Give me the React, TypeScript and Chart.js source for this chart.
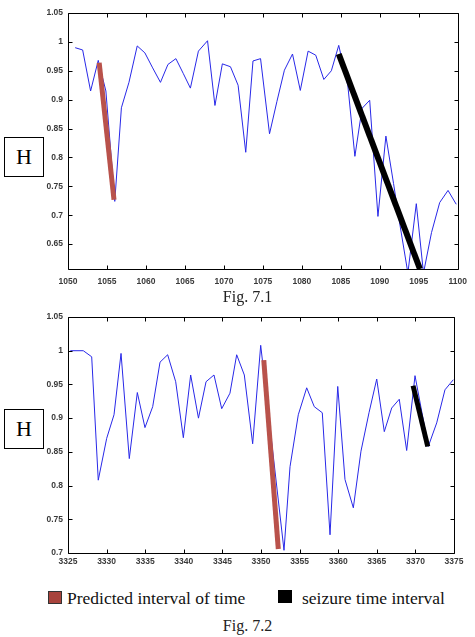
import React, { useEffect, useRef } from "react";
import { Chart, registerables } from "chart.js";

Chart.register(...registerables);

// ---------- Fig. 7.1 data ----------
const topX = [1050.92, 1051.88, 1052.9, 1053.88, 1054.86, 1056.0, 1056.85, 1057.82, 1058.88, 1059.86, 1060.86, 1061.86, 1062.82, 1063.84, 1064.8, 1065.7, 1066.73, 1067.9, 1068.85, 1069.8, 1070.84, 1071.82, 1072.8, 1073.73, 1074.7, 1075.85, 1076.8, 1077.76, 1078.8, 1079.8, 1080.8, 1081.78, 1082.82, 1083.78, 1084.73, 1085.9, 1086.8, 1087.72, 1088.7, 1089.76, 1090.78, 1091.76, 1092.5, 1093.6, 1094.68, 1095.6, 1096.63, 1097.68, 1098.75, 1099.8];
const topH = [0.990, 0.986, 0.915, 0.968, 0.915, 0.724, 0.886, 0.930, 0.993, 0.981, 0.955, 0.930, 0.961, 0.971, 0.945, 0.920, 0.984, 1.002, 0.890, 0.962, 0.957, 0.925, 0.809, 0.967, 0.971, 0.841, 0.897, 0.951, 0.979, 0.916, 0.984, 0.977, 0.935, 0.950, 0.994, 0.924, 0.802, 0.885, 0.899, 0.698, 0.837, 0.755, 0.690, 0.600, 0.720, 0.600, 0.670, 0.722, 0.743, 0.719];
const topPredX = [1054.0, 1055.9];
const topPredH = [0.964, 0.727];
const topSeizX = [1084.73, 1095.15];
const topSeizH = [0.979, 0.607];
const topXTicks = [1050, 1055, 1060, 1065, 1070, 1075, 1080, 1085, 1090, 1095, 1100];
const topYTicks = [0.65, 0.7, 0.75, 0.8, 0.85, 0.9, 0.95, 1, 1.05];

// ---------- Fig. 7.2 data ----------
const botX = [3325.3, 3326.98, 3328.07, 3328.92, 3330.01, 3330.96, 3331.87, 3332.94, 3333.98, 3334.97, 3335.97, 3336.92, 3337.91, 3338.95, 3339.94, 3340.89, 3341.9, 3342.88, 3343.91, 3344.91, 3345.98, 3346.85, 3347.84, 3348.92, 3349.96, 3352.98, 3353.76, 3354.83, 3355.92, 3356.9, 3357.94, 3358.94, 3359.94, 3360.88, 3361.96, 3362.95, 3363.99, 3364.99, 3365.97, 3366.93, 3367.91, 3368.87, 3369.95, 3371.67, 3372.76, 3373.83, 3374.91];
const botH = [1.0, 1.0, 0.991, 0.808, 0.870, 0.905, 0.996, 0.840, 0.938, 0.886, 0.917, 0.983, 0.994, 0.954, 0.871, 0.964, 0.900, 0.954, 0.964, 0.914, 0.937, 0.994, 0.964, 0.862, 1.008, 0.704, 0.828, 0.905, 0.945, 0.917, 0.908, 0.727, 0.947, 0.809, 0.767, 0.851, 0.908, 0.958, 0.880, 0.915, 0.928, 0.852, 0.963, 0.858, 0.893, 0.942, 0.957];
const botPredX = [3350.36, 3352.24];
const botPredH = [0.986, 0.706];
const botSeizX = [3369.7, 3371.6];
const botSeizH = [0.948, 0.858];
const botXTicks = [3325, 3330, 3335, 3340, 3345, 3350, 3355, 3360, 3365, 3370, 3375];
const botYTicks = [0.7, 0.75, 0.8, 0.85, 0.9, 0.95, 1, 1.05];

const BLUE = "rgb(40,40,232)";
const RED = "#b9524b";
const BLACK = "#000000";

const zip = (xs: number[], ys: number[]) => xs.map((x, i) => ({ x, y: ys[i] }));

const boxTicks = {
  id: "boxTicks",
  afterDatasetsDraw(chart: any) {
    const { ctx, chartArea: a, scales } = chart;
    const x = scales.x;
    const y = scales.y;
    ctx.save();
    ctx.strokeStyle = "#000";
    ctx.lineWidth = 1;
    const L = Math.round(a.left) + 0.5;
    const R = Math.round(a.right) + 0.5;
    const T = Math.round(a.top) + 0.5;
    const B = Math.round(a.bottom) + 0.5;
    ctx.beginPath();
    ctx.rect(L, T, R - L, B - T);
    const tl = 4;
    x.ticks.forEach((t: any) => {
      const px = Math.round(x.getPixelForValue(t.value)) + 0.5;
      ctx.moveTo(px, B);
      ctx.lineTo(px, B - tl);
      ctx.moveTo(px, T);
      ctx.lineTo(px, T + tl);
    });
    y.ticks.forEach((t: any) => {
      const py = Math.round(y.getPixelForValue(t.value)) + 0.5;
      ctx.moveTo(L, py);
      ctx.lineTo(L + tl, py);
      ctx.moveTo(R, py);
      ctx.lineTo(R - tl, py);
    });
    ctx.stroke();
    ctx.restore();
  },
};

type PanelProps = {
  top: number;
  height: number;
  padding: { top: number; right: number; bottom: number; left: number };
  xMin: number;
  xMax: number;
  yMin: number;
  yMax: number;
  xTicks: number[];
  yTicks: number[];
  xPad: number;
  lineX: number[];
  lineY: number[];
  predX: number[];
  predY: number[];
  seizX: number[];
  seizY: number[];
  predWidth: number;
  seizWidth: number;
};

function Panel(p: PanelProps) {
  const ref = useRef<HTMLCanvasElement | null>(null);
  useEffect(() => {
    if (!ref.current) return;
    const tickFont = { family: "'Liberation Sans', Arial, sans-serif", size: 8.5, weight: "bold" as const };
    const chart = new Chart(ref.current, {
      type: "line",
      data: {
        datasets: [
          {
            label: "Predicted interval of time",
            data: zip(p.predX, p.predY),
            borderColor: RED,
            borderWidth: p.predWidth,
            pointRadius: 0,
            tension: 0,
          },
          {
            label: "seizure time interval",
            data: zip(p.seizX, p.seizY),
            borderColor: BLACK,
            borderWidth: p.seizWidth,
            pointRadius: 0,
            tension: 0,
          },
          {
            label: "H",
            data: zip(p.lineX, p.lineY),
            borderColor: BLUE,
            borderWidth: 1,
            pointRadius: 0,
            tension: 0,
          },
        ],
      },
      options: {
        animation: false,
        responsive: false,
        maintainAspectRatio: false,
        layout: { padding: p.padding },
        plugins: { legend: { display: false }, tooltip: { enabled: false }, title: { display: false } },
        scales: {
          x: {
            type: "linear",
            min: p.xMin,
            max: p.xMax,
            grid: { display: false, drawTicks: false },
            border: { display: false },
            afterBuildTicks: (s: any) => {
              s.ticks = p.xTicks.map((v) => ({ value: v }));
            },
            afterFit: (s: any) => {
              s.height = 18;
            },
            ticks: {
              font: tickFont,
              color: "#3a3a3a",
              padding: p.xPad,
              maxRotation: 0,
              autoSkip: false,
              callback: (v: any) => String(v),
            },
          },
          y: {
            type: "linear",
            min: p.yMin,
            max: p.yMax,
            grid: { display: false, drawTicks: false },
            border: { display: false },
            afterBuildTicks: (s: any) => {
              s.ticks = p.yTicks.map((v) => ({ value: v }));
            },
            afterFit: (s: any) => {
              s.width = 68;
            },
            ticks: {
              font: tickFont,
              color: "#3a3a3a",
              padding: 5,
              autoSkip: false,
              callback: (v: any) => String(Number(Number(v).toFixed(2))),
            },
          },
        },
      },
      plugins: [boxTicks],
    });
    return () => chart.destroy();
  }, []);
  return (
    <canvas
      ref={ref}
      width={475}
      height={p.height}
      style={{ position: "absolute", left: 0, top: p.top, width: 475, height: p.height }}
    />
  );
}

const hBox = (top: number): React.CSSProperties => ({
  position: "absolute",
  left: 4,
  top,
  width: 38,
  height: 38,
  border: "1px solid #000",
  background: "#fff",
  fontFamily: "'Liberation Serif', 'Times New Roman', serif",
  fontSize: 22,
  lineHeight: "38px",
  textAlign: "center",
  color: "#000",
  boxSizing: "content-box",
});

const caption = (top: number): React.CSSProperties => ({
  position: "absolute",
  left: 0,
  width: 495,
  top,
  textAlign: "center",
  fontFamily: "'Liberation Serif', 'Times New Roman', serif",
  fontSize: 16,
  lineHeight: "18px",
  color: "#222",
});

const legendText: React.CSSProperties = {
  position: "absolute",
  fontFamily: "'Liberation Serif', 'Times New Roman', serif",
  fontSize: 17.5,
  lineHeight: "20px",
  color: "#111",
  whiteSpace: "nowrap",
};

export default function App() {
  return (
    <div style={{ position: "absolute", left: 0, top: 0, width: 475, height: 637, background: "#fff", overflow: "hidden" }}>
      <Panel
        top={0}
        height={290}
        padding={{ top: 13, right: 14, bottom: 3, left: 0 }}
        xMin={1050}
        xMax={1100}
        yMin={0.607}
        yMax={1.05}
        xTicks={topXTicks}
        yTicks={topYTicks}
        xPad={8}
        lineX={topX}
        lineY={topH}
        predX={topPredX}
        predY={topPredH}
        seizX={topSeizX}
        seizY={topSeizH}
        predWidth={5}
        seizWidth={6}
      />
      <Panel
        top={300}
        height={280}
        padding={{ top: 17, right: 21, bottom: 9, left: 0 }}
        xMin={3325}
        xMax={3375}
        yMin={0.7}
        yMax={1.05}
        xTicks={botXTicks}
        yTicks={botYTicks}
        xPad={4}
        lineX={botX}
        lineY={botH}
        predX={botPredX}
        predY={botPredH}
        seizX={botSeizX}
        seizY={botSeizH}
        predWidth={5}
        seizWidth={5}
      />
      <div style={hBox(137)}>H</div>
      <div style={hBox(409)}>H</div>
      <div style={caption(288)}>Fig. 7.1</div>
      <div style={caption(617)}>Fig. 7.2</div>
      <div style={{ position: "absolute", left: 48, top: 591, width: 12, height: 11, background: "#a8433c", border: "1px solid #333" }} />
      <div style={{ ...legendText, left: 67, top: 588 }}>Predicted interval of time</div>
      <div style={{ position: "absolute", left: 278, top: 590, width: 14, height: 13, background: "#000" }} />
      <div style={{ ...legendText, left: 302, top: 588 }}>seizure time interval</div>
    </div>
  );
}
